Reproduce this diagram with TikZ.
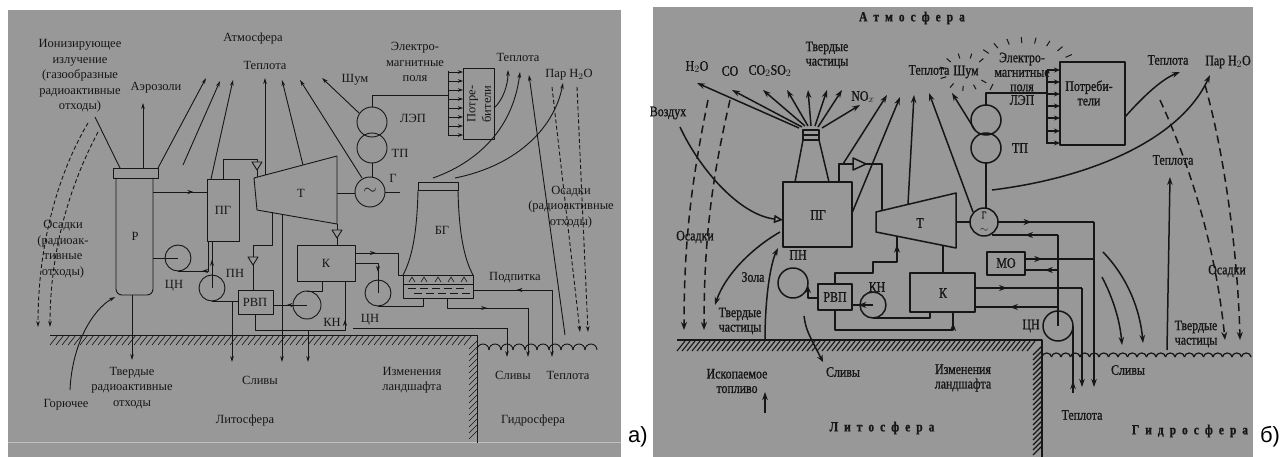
\documentclass[tikz,border=0pt]{standalone}
\usepackage{fontspec}
\setmainfont{Liberation Serif}
\newfontfamily\bfnt[FakeStretch=0.82,FakeBold=1.0]{Liberation Serif}
\newfontfamily\sansf{Liberation Sans}
\usetikzlibrary{arrows.meta,decorations.markings}
\definecolor{bgc}{RGB}{152,152,152}
\definecolor{ink}{RGB}{22,22,22}
\tikzset{
  ta/.style={font=\fontsize{12.5}{15.5}\selectfont, text=ink, inner sep=0pt, align=center},
  tb/.style={font=\bfnt\fontsize{14.5}{14.5}\selectfont, text=ink, inner sep=0pt, align=center},
  sp/.style={font=\bfnt\fontsize{14}{14}\selectfont\bfseries, text=ink, inner sep=0pt},
  la/.style={draw=ink, line width=0.9pt},
  lb/.style={draw=ink, line width=1.5pt},
  aa/.style={la, -{Stealth[length=6pt,width=3.6pt]}},
  ab/.style={lb, -{Stealth[length=8pt,width=5.5pt]}},
  mida/.style={postaction={decorate}, decoration={markings, mark=at position #1 with {\arrow{Stealth[length=6pt,width=4pt]}}}},
  mida/.default=0.5,
  midb/.style={postaction={decorate}, decoration={markings, mark=at position #1 with {\arrow{Stealth[length=8pt,width=6pt]}}}},
  midb/.default=0.5,
  dasha/.style={la, dash pattern=on 4pt off 2.5pt},
  dashb/.style={lb, dash pattern=on 8pt off 5pt},
  valvea/.style={la, fill=bgc},
}
\begin{document}
\begin{tikzpicture}[x=1pt,y=-1pt,line join=round]
\useasboundingbox (0,0) rectangle (1285,457);
\fill[white] (0,0) rectangle (1285,457);
\fill[bgc] (8,10) rectangle (621,457);
\fill[bgc] (653,7) rectangle (1253,457);
\draw[white!40!bgc, line width=0.8pt] (8,442) -- (621,442);
\node[font=\sansf\fontsize{22}{22}\selectfont, inner sep=0pt] (lblA) at (638,437) {а)};
\node[font=\sansf\fontsize{22}{22}\selectfont, inner sep=0pt] (lblB) at (1270,437) {б)};

%%%%%%%%%%%%%%%% PANEL A %%%%%%%%%%%%%%%%
\node[ta] (ionA) at (80,76) {Ионизирующее\\излучение\\(газообразные\\радиоактивные\\отходы)};
\node[ta] (atmA) at (253,38) {Атмосфера};
\node[ta] (tepA1) at (265,65) {Теплота};
\node[ta] (aerA) at (156,88) {Аэрозоли};
\node[ta] (shumA) at (355,80) {Шум};
\node[ta] (emA) at (415,62) {Электро-\\магнитные\\поля};
\node[ta] (tepA2) at (518,57) {Теплота};
\node[ta] (parA) at (569,75) {Пар H$_2$O};
\node[ta] (osA2) at (571,207) {Осадки\\(радиоактивные\\отходы)};
\node[ta] (osA1) at (63,249) {Осадки\\(радиоак-\\тивные\\отходы)};
\node[ta] (tvA) at (132,388) {Твердые\\радиоактивные\\отходы};
\node[ta] (gorA) at (66,405) {Горючее};
\node[ta] (slA1) at (260,380) {Сливы};
\node[ta] (litA) at (245,420) {Литосфера};
\node[ta] (izA) at (412,380) {Изменения\\ландшафта};
\node[ta] (slA2) at (513,375) {Сливы};
\node[ta] (tepA3) at (568,375) {Теплота};
\node[ta] (gidA) at (533,420) {Гидросфера};
\node[ta] (podA) at (515,278) {Подпитка};

% reactor
\draw[la] (113,168) rectangle (158,178);
\draw[la,rounded corners=6pt] (116,178) -- (116,295) -- (153,295) -- (153,178);
\node[ta] (rA) at (135,236) {Р};
\draw[la] (95,117) -- (120,168);
\draw[aa] (143,168) -- (143,103);
\draw[aa] (158,168) -- (206,78);
\draw[aa] (183,165) -- (220,81);
\draw[aa] (211,179) -- (233,80);
\draw[aa] (265,175) -- (265,78);
\draw[aa] (303,165) -- (282,80);
\draw[aa] (362,178) -- (300,80);
\draw[aa] (359,113) -- (322,78);
\draw[aa] (132,295) -- (132,360);
% PG
\draw[la] (207,179) rectangle (239,241);
\node[ta] (pgA) at (223,210) {ПГ};
\draw[la,mida=0.75] (153,192) -- (207,192);
\draw[la] (223,179) -- (223,159) -- (257,159) -- (257,177);
\draw[valvea] (252,162) -- (262,162) -- (257,170) -- cycle;
% turbine
\draw[la] (254,178) -- (337,156) -- (337,224) -- (257,210) -- cycle;
\node[ta] (tA) at (301,193) {Т};
\draw[la] (337,193) -- (355,193);
\draw[la] (370,192) circle[radius=15];
\node[ta,font=\fontsize{16}{16}\selectfont] (sinA) at (370,191) {$\sim$};
\draw[la] (385,192) -- (400,192);
\node[ta] (gA) at (393,178) {Г};
\draw[la] (372,148) circle[radius=15];
\draw[la] (372,122) circle[radius=15];
\draw[la] (372,163) -- (372,177);
\node[ta] (tpA) at (400,153) {ТП};
\node[ta] (lepA) at (413,118) {ЛЭП};
\draw[la] (372,107) -- (372,95) -- (448,95);
\draw[la] (448,71) -- (448,136);
\foreach \yy in {72,81,90,99,108,117,126,135} \draw[la,-{Stealth[length=5pt,width=3.5pt]}] (448,\yy) -- (463,\yy);
\draw[la] (463,68) rectangle (494,139);
\node[ta, rotate=90] (potrA) at (479,104) {Потре-\\бители};
\draw[aa] (494,108) .. controls (503,100) and (508,85) .. (508,70);
% ЦН near reactor
\draw[la] (178,258) circle[radius=13];
\draw[la] (153,258) -- (178,258);
\draw[la,mida=0.6] (208,241) -- (208,271) -- (178,271);
\node[ta] (cnA1) at (174,286) {ЦН};
% ПН
\draw[la] (212,288) circle[radius=13];
\draw[la,mida=0.6] (212,288) -- (212,241);
\draw[la] (212,301) -- (238,301);
\draw[aa] (232,301) -- (232,362);
\node[ta] (pnA) at (235,273) {ПН};
% РВП
\draw[la] (238,290) rectangle (273,314);
\node[ta] (rvpA) at (255,302) {РВП};
\draw[la] (272,212) -- (272,245) -- (253,245) -- (253,290);
\draw[valvea] (248,257) -- (258,257) -- (253,265) -- cycle;
\draw[aa] (282,214) -- (282,362);
% КН
\draw[la] (307,305) circle[radius=14];
\draw[la,mida=0.6] (307,305) -- (273,305);
\draw[la] (322,281) -- (322,291) -- (307,291);
\draw[la,mida=0.75] (255,314) -- (255,330) -- (345,330) -- (345,281);
\draw[aa] (308,330) -- (308,362);
\node[ta] (knA) at (332,322) {КН};
% K
\draw[la] (297,245) rectangle (355,281);
\node[ta] (kA) at (326,263) {К};
\draw[la] (337,224) -- (337,245);
\draw[valvea] (332,230) -- (342,230) -- (337,238) -- cycle;
% tower
\draw[la] (418,182) rectangle (458,190);
\draw[la] (418,190) .. controls (417,240) and (410,262) .. (403,275);
\draw[la] (458,190) .. controls (459,240) and (466,262) .. (473,275);
\draw[la] (403,275) rectangle (473,298);
\draw[la] (403,284) -- (473,284);
\foreach \xx in {412,424,438,451,464} \draw[la,line width=0.6pt] (\xx-3,282) -- (\xx,277) -- (\xx+3,282);
\foreach \xx in {408,420,432,444,456} \draw[la,line width=0.6pt] (\xx,288.5) -- (\xx+8,288.5);
\foreach \xx in {414,426,438,450,462} \draw[la,line width=0.6pt] (\xx,293) -- (\xx+8,293);
\node[ta] (bgA) at (442,230) {БГ};
\draw[aa] (433,178) .. controls (470,165) and (512,135) .. (520,72);
\draw[aa] (455,178) .. controls (520,165) and (555,125) .. (563,83);
\draw[la,mida=0.3] (355,253) -- (398,253) -- (398,275) -- (403,275);
\draw[la] (378,293) circle[radius=13];
\draw[la,mida=0.6] (355,263) -- (378,263) -- (378,293);
\draw[la] (378,306) -- (423,306) -- (423,298);
\draw[la,mida=0.55] (447,298) -- (447,308) -- (528,308);
\draw[aa] (528,308) -- (528,357);
\draw[la,mida=0.45] (552,290) -- (473,290);
\draw[aa] (552,290) -- (552,357);
\draw[la] (353,328) -- (507,328);
\draw[aa] (507,328) -- (507,357);
\node[ta] (cnA2) at (370,320) {ЦН};
\draw[aa] (565,335) -- (529,75);
% precipitation
\draw[dasha,-{Stealth[length=6pt,width=3.6pt]}] (88,123) .. controls (60,170) and (38,240) .. (38,327);
\draw[dasha,-{Stealth[length=6pt,width=3.6pt]}] (98,132) .. controls (70,185) and (50,250) .. (50,327);
\draw[dasha,-{Stealth[length=6pt,width=3.6pt]}] (552,87) -- (580,332);
\draw[dasha,-{Stealth[length=6pt,width=3.6pt]}] (577,87) -- (588,332);
\draw[aa] (70,390) .. controls (72,345) and (92,310) .. (115,297);
% ground and water
\draw[la] (50,335) -- (477,335) -- (477,443);
\foreach \xx in {50,56,...,466} \draw[la,line width=0.6pt] (\xx,345) -- (\xx+8,335);
\foreach \yy in {341,347,...,435} \draw[la,line width=0.6pt] (469,\yy+8) -- (477,\yy);
\foreach \i in {0,...,9} \draw[la] (477+12*\i,350) arc[start angle=180,end angle=360,radius=6];

%%%%%%%%%%%%%%%% PANEL B %%%%%%%%%%%%%%%%
\node[sp] (atmB) at (912,18) {А\hspace{6pt}т\hspace{6pt}м\hspace{6pt}о\hspace{6pt}с\hspace{6pt}ф\hspace{6pt}е\hspace{6pt}р\hspace{6pt}а};
\node[tb] (h2oB) at (697,67) {H$_2$O};
\node[tb] (coB) at (730,71) {CO};
\node[tb] (co2B) at (770,71) {CO$_2$SO$_2$};
\node[tb] (tvB1) at (827,55) {Твердые\\частицы};
\node[tb] (noB) at (863,97) {NO$_x$};
\node[tb] (tepB1) at (929,70) {Теплота};
\node[tb] (vozB) at (668,113) {Воздух};
\node[tb] (shumB) at (966,72) {Шум};
\node[tb] (emB) at (1022,72) {Электро-\\магнитные\\поля};
\node[tb] (lepB) at (1022,100) {ЛЭП};
\node[tb] (tpB) at (1020,148) {ТП};
\node[tb] (tepB2) at (1168,60) {Теплота};
\node[tb] (parB) at (1228,62) {Пар H$_2$O};
\node[tb] (tepB3) at (1173,160) {Теплота};
\node[tb] (osB1) at (695,237) {Осадки};
\node[tb] (osB2) at (1227,271) {Осадки};
\node[tb] (zolB) at (753,277) {Зола};
\node[tb] (tvB2) at (740,321) {Твердые\\частицы};
\node[tb] (tvB3) at (1196,334) {Твердые\\частицы};
\node[tb] (iskB) at (737,381) {Ископаемое\\топливо};
\node[tb] (slB1) at (843,372) {Сливы};
\node[tb] (slB2) at (1128,370) {Сливы};
\node[tb] (izB) at (963,378) {Изменения\\ландшафта};
\node[tb] (tepB4) at (1082,415) {Теплота};
\node[sp] (litB) at (882,428) {Л\hspace{6pt}и\hspace{6pt}т\hspace{6pt}о\hspace{6pt}с\hspace{6pt}ф\hspace{6pt}е\hspace{6pt}р\hspace{6pt}а};
\node[sp] (gidB) at (1190,431) {Г\hspace{6pt}и\hspace{6pt}д\hspace{6pt}р\hspace{6pt}о\hspace{6pt}с\hspace{6pt}ф\hspace{6pt}е\hspace{6pt}р\hspace{6pt}а};

% chimney + PG
\draw[lb] (803,130) rectangle (819,140);
\draw[lb] (803,135) -- (819,135);
\draw[lb] (803,140) -- (795,182);
\draw[lb] (819,140) -- (829,182);
\draw[lb] (783,182) rectangle (852,247);
\node[tb] (pgB) at (818,215) {ПГ};
\draw[ab] (799,128) -- (697,83);
\draw[ab] (802,127) -- (732,90);
\draw[ab] (805,126) -- (763,90);
\draw[ab] (808,126) -- (787,90);
\draw[ab] (811,126) -- (808,90);
\draw[ab] (815,126) -- (827,90);
\draw[ab] (818,127) -- (842,90);
\draw[ab] (822,128) -- (860,105);
\draw[lb,-{Triangle[open,length=9pt,width=8pt]}] (680,127) .. controls (700,170) and (740,215) .. (783,220);
\draw[lb] (839,182) -- (839,164) -- (882,164) -- (882,211);
\draw[lb,fill=bgc] (853,158) -- (866,164) -- (853,170) -- cycle;
\draw[ab] (843,164) -- (887,95);
\draw[ab] (852,213) -- (900,97);
\draw[ab] (908,204) -- (914,95);
% turbine, generator
\draw[lb] (876,212) -- (956,193) -- (956,248) -- (876,232) -- cycle;
\node[tb] (tB) at (920,223) {Т};
\draw[lb] (956,222) -- (970,222);
\draw[lb] (984,222) circle[radius=14];
\node[tb,font=\bfnt\fontsize{10}{10}\selectfont] (gB) at (984,215) {Г};
\node[tb,font=\fontsize{11}{11}\selectfont] (sinB) at (984,230) {$\sim$};
\draw[ab] (973,212) -- (929,93);
\draw[lb] (986,148) circle[radius=15];
\draw[lb] (986,120) circle[radius=15];
\draw[lb] (986,163) -- (986,208);
\draw[ab] (975,130) -- (952,93);
\draw[lb] (986,105) -- (986,93) -- (1047,93);
\draw[lb] (1047,70) -- (1047,144);
\foreach \yy in {70,82,94,106,118,131,143} \draw[lb,-{Stealth[length=6pt,width=5pt]}] (1047,\yy) -- (1060,\yy);
\draw[lb] (1060,62) rectangle (1125,145);
\node[tb] (potrB) at (1089,93) {Потреби-\\тели};
\draw[ab] (1125,117) .. controls (1140,100) and (1160,80) .. (1180,72);
\draw[ab] (992,190) .. controls (1090,178) and (1180,140) .. (1210,75);
% noise rays
\foreach \a in {45,75,105,135,165,200,235,265,295,325} \draw[ink,line width=1pt] ({965+20*cos(\a)},{72-14*sin(\a)}) -- ({965+26*cos(\a)},{72-19*sin(\a)});
\foreach \a in {28,45,62,78,94,110,126,142} \draw[ink,line width=1pt] ({1025+46*cos(\a)},{70-27*sin(\a)}) -- ({1025+53*cos(\a)},{70-33*sin(\a)});
\draw[ink,line width=1pt] (990,90) -- (993,84);
% lower part
\draw[lb] (910,273) rectangle (975,312);
\node[tb] (kB) at (943,293) {К};
\draw[lb] (943,245) -- (943,273);
\draw[lb] (818,284) rectangle (852,310);
\node[tb] (rvpB) at (835,297) {РВП};
\draw[lb,midb=0.93] (835,284) -- (835,273) -- (873,273) -- (873,262) -- (897,262) -- (897,237);
\draw[lb] (793,283) circle[radius=15];
\draw[lb,-{Stealth[length=7pt,width=6pt]}] (818,298) -- (808,298) -- (808,286);
\node[tb] (pnB) at (798,255) {ПН};
\draw[lb] (873,305) circle[radius=13];
\draw[lb,midb=0.7] (873,305) -- (852,305);
\draw[lb] (873,318) -- (930,318) -- (930,312);
\node[tb] (knB) at (877,287) {КН};
\draw[lb,midb=0.93] (835,310) -- (835,330) -- (953,330) -- (953,312);
\draw[lb,-{Stealth[length=7pt,width=6pt]}] (804,316) .. controls (806,330) and (808,333) .. (823,362);
% МО and ЦН
\draw[lb] (987,252) rectangle (1025,275);
\node[tb] (moB) at (1006,263) {МО};
\draw[lb,midb=0.35] (998,222) -- (1094,222);
\draw[ab] (1094,222) -- (1094,387);
\draw[lb,midb=0.5] (1058,235) -- (992,235);
\draw[lb,midb=0.25] (1025,259) -- (1094,259);
\draw[lb,midb=0.4] (1058,270) -- (1025,270);
\draw[lb,midb=0.3] (975,288) -- (1082,288);
\draw[ab] (1082,288) -- (1082,387);
\draw[lb,midb=0.58] (1058,307) -- (975,307);
\draw[lb] (1058,326) circle[radius=15];
\draw[lb] (1058,326) -- (1058,235);
\draw[lb] (1073,326) -- (1073,392);
\draw[ab] (1073,393) -- (1073,381);
\node[tb] (cnB) at (1031,326) {ЦН};
% zola, fuel, slivy
\draw[ab] (780,232) .. controls (752,248) and (725,275) .. (715,305);
\draw[ab] (765,340) .. controls (765,300) and (770,265) .. (778,248);
\draw[ab] (765,413) -- (765,392);
\draw[ab] (1103,252) .. controls (1128,278) and (1140,310) .. (1143,343);
\draw[ab] (1102,277) .. controls (1114,300) and (1120,322) .. (1122,345);
\draw[ab] (1167,350) -- (1170,177);
% dashed precipitation
\draw[dashb,-{Stealth[length=8pt,width=6pt]}] (708,100) .. controls (694,170) and (684,230) .. (684,330);
\draw[dashb,-{Stealth[length=8pt,width=6pt]}] (730,100) .. controls (714,170) and (704,230) .. (704,330);
\draw[dashb,-{Stealth[length=8pt,width=6pt]}] (1160,100) .. controls (1192,170) and (1216,250) .. (1225,340);
\draw[dashb,-{Stealth[length=8pt,width=6pt]}] (1205,85) .. controls (1226,160) and (1238,260) .. (1240,340);
% ground and water b
\draw[lb] (677,340) -- (1042,340) -- (1042,457);
\foreach \xx in {677,682,...,1028} \draw[ink,line width=1.1pt] (\xx,351) -- (\xx+8,341);
\foreach \yy in {346,351,...,447} \draw[ink,line width=1.1pt] (1033,\yy+9) -- (1042,\yy);
\foreach \i in {0,...,21} \draw[lb,line width=1.2pt] (1042+9.5*\i,357) arc[start angle=180,end angle=360,x radius=4.75,y radius=4];
\end{tikzpicture}
\end{document}
